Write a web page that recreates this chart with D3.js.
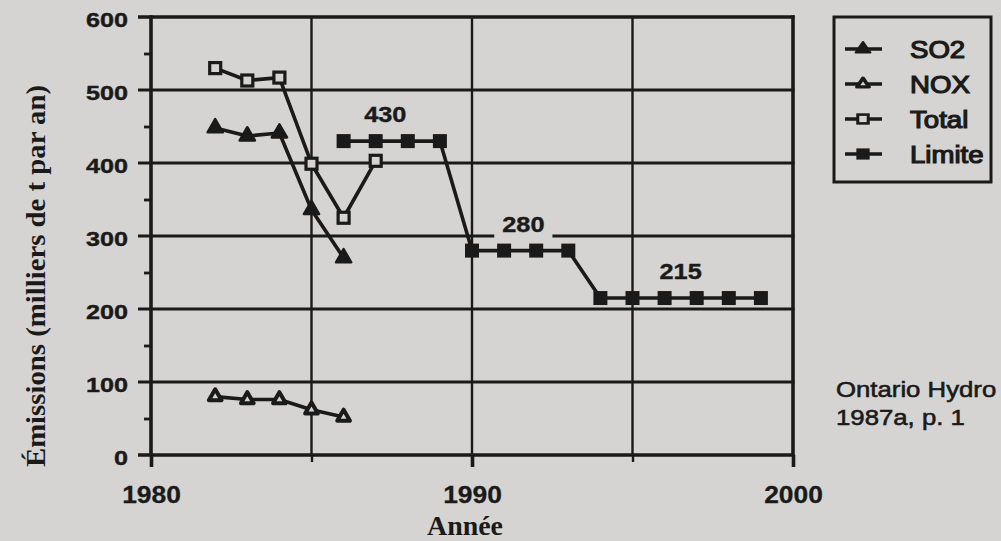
<!DOCTYPE html>
<html>
<head>
<meta charset="utf-8">
<script src="https://cdn.jsdelivr.net/npm/d3@7"></script>
<style>
  html, body { margin: 0; padding: 0; background: #d5d4d2; }
  svg { display: block; }
</style>
</head>
<body>
<svg id="chart" width="1001" height="541"></svg>
<script>
// ---------------- DATA ----------------
const totalYears  = [1982, 1983, 1984, 1985, 1986, 1987];
const totalValues = [530, 513, 517, 399, 325, 403];
const so2Years    = [1982, 1983, 1984, 1985, 1986];
const so2Values   = [448, 437, 441, 336, 270];
const noxYears    = [1982, 1983, 1984, 1985, 1986];
const noxValues   = [80, 76, 76, 62, 52];
const limiteYears  = [1986, 1987, 1988, 1989, 1990, 1991, 1992, 1993, 1994, 1995, 1996, 1997, 1998, 1999];
const limiteValues = [430, 430, 430, 430, 280, 280, 280, 280, 215, 215, 215, 215, 215, 215];
const labelTexts  = ["430", "280", "215"];
const labelYears  = [1987.3, 1991.6, 1996.5];
const labelValues = [430, 280, 215];
const yTicks      = [0, 100, 200, 300, 400, 500, 600];
const yMinorTicks = [50, 150, 250, 350, 450, 550];
const xTicks      = [1980, 1990, 2000];
const xMinorTicks = [1985, 1995];
const xGrid       = [1985, 1990, 1995];
const legendNames = ["SO2", "NOX", "Total", "Limite"];
const yTitle = "Émissions (milliers de t par an)";
const xTitle = "Année";
const sourceLines = ["Ontario Hydro", "1987a, p. 1"];

// ---------------- SETUP ----------------
const INK = "#1a1a1a", BG = "#d5d4d2";
const SANS = "'Liberation Sans', Arial, Helvetica, sans-serif";
const SERIF = "'Liberation Serif', 'Times New Roman', serif";
const svg = d3.select("#chart");
svg.append("rect").attr("width", 1001).attr("height", 541).attr("fill", BG);

const x = d3.scaleLinear().domain([1980, 2000]).range([151, 793]);
const y = d3.scaleLinear().domain([0, 600]).range([455, 17]);

// horizontal gridlines (extend left as major ticks)
svg.append("g").selectAll("line").data(yTicks).join("line")
  .attr("x1", 138).attr("x2", x(2000) + 1.5)
  .attr("y1", d => y(d)).attr("y2", d => y(d))
  .attr("stroke", INK).attr("stroke-width", d => (d === 0 || d === 600) ? 3.6 : 3);

// vertical gridlines
svg.append("g").selectAll("line").data(xGrid).join("line")
  .attr("x1", d => x(d)).attr("x2", d => x(d))
  .attr("y1", y(600)).attr("y2", y(0))
  .attr("stroke", INK).attr("stroke-width", 2.4);

// frame verticals
[1980, 2000].forEach(v => {
  svg.append("line").attr("x1", x(v)).attr("x2", x(v)).attr("y1", y(600) - 1.8).attr("y2", y(0))
    .attr("stroke", INK).attr("stroke-width", 3.6);
});

// Y axis labels (library axis)
const yAxis = svg.append("g").attr("transform", `translate(${x(1980)},0)`)
  .call(d3.axisLeft(y).tickValues(yTicks).tickSize(0).tickFormat(d3.format("d")));
yAxis.select(".domain").remove();
yAxis.selectAll("text")
  .attr("x", -23 / 1.2).attr("dy", "0.45em")
  .attr("transform", "scale(1.2,1)")
  .style("font-family", SANS).style("font-size", "21px").style("font-weight", "bold")
  .attr("fill", INK).attr("stroke", INK).attr("stroke-width", 0.4);

// Y minor ticks
const yMinor = svg.append("g").attr("transform", `translate(${x(1980)},0)`)
  .call(d3.axisLeft(y).tickValues(yMinorTicks).tickSize(7).tickFormat(""));
yMinor.select(".domain").remove();
yMinor.selectAll("line").attr("stroke", INK).attr("stroke-width", 2.8);

// X axis
const xAxis = svg.append("g").attr("transform", `translate(0,${y(0)})`)
  .call(d3.axisBottom(x).tickValues(xTicks).tickSize(12).tickFormat(d3.format("d")));
xAxis.select(".domain").remove();
xAxis.selectAll("line").attr("stroke", INK).attr("stroke-width", 3.6);
xAxis.selectAll("text")
  .attr("y", 48).attr("dy", "0").attr("x", 0)
  .attr("transform", "scale(1.1,1)")
  .style("font-family", SANS).style("font-size", "24px").style("font-weight", "bold")
  .attr("fill", INK).attr("stroke", INK).attr("stroke-width", 0.3);
const xMinor = svg.append("g").attr("transform", `translate(0,${y(0)})`)
  .call(d3.axisBottom(x).tickValues(xMinorTicks).tickSize(7).tickFormat(""));
xMinor.select(".domain").remove();
xMinor.selectAll("line").attr("stroke", INK).attr("stroke-width", 2.4);

// ---------------- SERIES ----------------
const line = d3.line().x(d => x(d[0])).y(d => y(d[1]));
const zipS = (xs, vs) => xs.map((v, i) => [v, vs[i]]);
const series = [
  { name: "SO2",    pts: zipS(so2Years, so2Values),       marker: "triFilled" },
  { name: "NOX",    pts: zipS(noxYears, noxValues),       marker: "triOpen" },
  { name: "Total",  pts: zipS(totalYears, totalValues),   marker: "sqOpen" },
  { name: "Limite", pts: zipS(limiteYears, limiteValues), marker: "sqFilled" }
];

function drawMarker(g, type, cx, cy, sx, sy) {
  const kx = sx || 1, ky = sy || kx;
  const gg = g.append("g").attr("transform", `translate(${cx},${cy}) scale(${kx},${ky})`);
  if (type === "sqOpen") {
    gg.append("rect").attr("x", -5.5).attr("y", -5.5).attr("width", 11).attr("height", 11)
      .attr("fill", BG).attr("stroke", INK).attr("stroke-width", 3.2);
  } else if (type === "sqFilled") {
    gg.append("rect").attr("x", -7).attr("y", -7).attr("width", 14).attr("height", 14).attr("fill", INK);
  } else if (type === "triFilled") {
    gg.append("path").attr("d", d3.symbol(d3.symbolTriangle, 100)())
      .attr("fill", INK).attr("stroke", INK).attr("stroke-width", 2.5).attr("stroke-linejoin", "round");
  } else {
    gg.append("path").attr("d", d3.symbol(d3.symbolTriangle, 70)())
      .attr("fill", BG).attr("stroke", INK).attr("stroke-width", 4).attr("stroke-linejoin", "round");
  }
}

series.forEach(s => {
  const g = svg.append("g");
  g.append("path").datum(s.pts).attr("d", line)
    .attr("fill", "none").attr("stroke", INK).attr("stroke-width", 3.6).attr("stroke-linejoin", "round");
  s.pts.forEach(p => drawMarker(g, s.marker, x(p[0]), y(p[1])));
});

// ---------------- VALUE LABELS ----------------
labelTexts.forEach((t, i) => {
  const g = svg.append("g").attr("transform", `translate(${x(labelYears[i])},${y(labelValues[i]) - 19})`);
  g.append("text").text(t)
    .attr("text-anchor", "middle").attr("transform", "scale(1.15,1)")
    .style("font-family", SANS).style("font-size", "22px").style("font-weight", "bold")
    .attr("fill", INK).attr("stroke", INK).attr("stroke-width", 0.4);
  const bb = g.node().getBBox();
  g.insert("rect", "text").attr("x", bb.x - 8).attr("y", bb.y + 2)
    .attr("width", bb.width + 16).attr("height", bb.height)
    .attr("fill", BG);
});

// ---------------- TITLES ----------------
svg.append("text").text(xTitle)
  .attr("x", 465).attr("y", 535).attr("text-anchor", "middle")
  .attr("textLength", 76).attr("lengthAdjust", "spacingAndGlyphs")
  .style("font-family", SERIF).style("font-size", "27px").style("font-weight", "bold")
  .attr("fill", INK);

svg.append("text").text(yTitle)
  .attr("transform", `translate(45,276) rotate(-90)`)
  .attr("text-anchor", "middle")
  .attr("textLength", 382).attr("lengthAdjust", "spacingAndGlyphs")
  .style("font-family", SERIF).style("font-size", "27px").style("font-weight", "bold")
  .attr("fill", INK);

// ---------------- LEGEND ----------------
const lg = svg.append("g");
lg.append("rect").attr("x", 834).attr("y", 17).attr("width", 157).attr("height", 165)
  .attr("fill", BG).attr("stroke", INK).attr("stroke-width", 3);
legendNames.forEach((n, i) => {
  const cy = 49 + i * 35;
  lg.append("line").attr("x1", 845).attr("x2", 882).attr("y1", cy).attr("y2", cy)
    .attr("stroke", INK).attr("stroke-width", 3.6);
  drawMarker(lg, series[i].marker, 863, cy, 0.95, 0.8);
  lg.append("text").text(n)
    .attr("transform", `translate(910,${cy + 9}) scale(1.15,1)`)
    .style("font-family", SANS).style("font-size", "24px")
    .attr("fill", INK).attr("stroke", INK).attr("stroke-width", 1.2);
});

// ---------------- SOURCE ----------------
sourceLines.forEach((t, i) => {
  svg.append("text").text(t)
    .attr("transform", `translate(836,${397 + i * 28}) scale(1.12,1)`)
    .style("font-family", SANS).style("font-size", "23px")
    .attr("fill", INK).attr("stroke", INK).attr("stroke-width", 0.6);
});
</script>
</body>
</html>
